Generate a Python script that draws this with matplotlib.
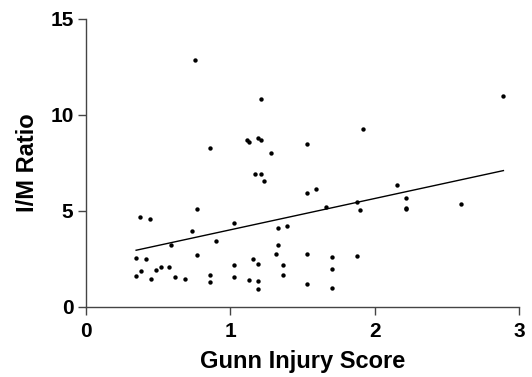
import numpy as np
import matplotlib
matplotlib.use("Agg")
import matplotlib.pyplot as plt

# Gunn injury score vs. I/M ratio for each subject
gunn_score = [
    1.280, 1.169, 1.215, 1.232, 1.533, 0.372, 0.446, 0.771, 1.026, 0.734,
    1.328, 1.395, 0.897, 0.586, 1.328, 0.347, 0.416, 0.768, 1.317, 1.533,
    1.153, 1.194, 1.026, 1.365, 0.379, 0.485, 0.517, 0.572, 0.347, 0.453,
    0.619, 0.688, 0.856, 0.856, 1.026, 1.130, 1.194, 1.194, 1.365, 1.533,
    0.755, 1.211, 0.856, 1.116, 1.128, 1.194, 1.215, 1.533, 2.890, 1.918,
    1.593, 1.660, 1.874, 1.897, 2.155, 2.213, 2.213, 2.213, 2.597, 1.701,
    1.701, 1.874, 1.701,
]
im_ratio = [
    8.01, 6.93, 6.93, 6.55, 5.92, 4.69, 4.58, 5.09, 4.34, 3.94,
    4.08, 4.20, 3.44, 3.20, 3.21, 2.55, 2.48, 2.71, 2.76, 2.73,
    2.48, 2.22, 2.17, 2.17, 1.88, 1.93, 2.05, 2.05, 1.58, 1.43,
    1.55, 1.46, 1.65, 1.30, 1.56, 1.41, 1.34, 0.91, 1.65, 1.17,
    12.86, 10.85, 8.28, 8.68, 8.59, 8.77, 8.67, 8.47, 10.99, 9.27,
    6.13, 5.18, 5.45, 5.05, 6.34, 5.66, 5.16, 5.09, 5.33, 2.57,
    1.95, 2.64, 0.97,
]

x_ticks = [0, 1, 2, 3]
y_ticks = [0, 5, 10, 15]

plt.rcParams['font.family'] = ['Liberation Sans', 'DejaVu Sans']

fig = plt.figure(figsize=(5.32, 3.77), dpi=100)
ax = fig.add_axes([86 / 532, 1 - 306.7 / 377, (519.3 - 86) / 532, (306.7 - 19) / 377])

x = np.array(gunn_score)
y = np.array(im_ratio)

ax.scatter(x, y, s=10, color='black', linewidths=0, zorder=3)

# least-squares line across the observed score range
slope, intercept = np.polyfit(x, y, 1)
xf = np.array([x.min(), x.max()])
ax.plot(xf, slope * xf + intercept, color='black', lw=1.0, zorder=2)

ax.set_xlim(0, 3)
ax.set_ylim(0, 15)
ax.set_xticks(x_ticks)
ax.set_yticks(y_ticks)
ax.set_xticklabels([str(t) for t in x_ticks], fontsize=15, fontweight='bold')
ax.set_yticklabels([str(t) for t in y_ticks], fontsize=15, fontweight='bold')

for side in ('top', 'right'):
    ax.spines[side].set_visible(False)
for side in ('left', 'bottom'):
    ax.spines[side].set_color('#444444')
    ax.spines[side].set_linewidth(1.0)
ax.tick_params(direction='out', length=6, width=1.0, color='#444444')
ax.tick_params(axis='x', pad=5)
ax.tick_params(axis='y', pad=3)

ax.set_xlabel('Gunn Injury Score', fontsize=17, fontweight='bold')
ax.set_ylabel('I/M Ratio', fontsize=17, fontweight='bold')
ax.xaxis.set_label_coords(0.5, -0.214)
ax.xaxis.label.set_va('baseline')
ax.yaxis.set_label_coords(-0.134, 0.5)
ax.yaxis.label.set_va('center')

fig.savefig('out.png', dpi=100)
